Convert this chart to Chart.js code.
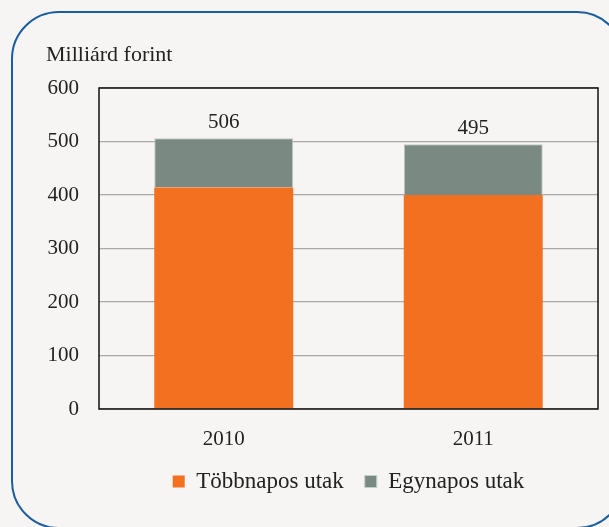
<!DOCTYPE html>
<html>
<head>
<meta charset="utf-8">
<script src="https://cdn.jsdelivr.net/npm/chart.js@4.4.1/dist/chart.umd.min.js"></script>
<style>
    html, body { margin: 0; padding: 0; background: #f6f5f3; overflow: hidden; }
    #wrap { position: relative; width: 609px; height: 527px; }
    #frame {
        position: absolute; left: 11px; top: 11px; width: 614px; height: 518px;
        border: 2.5px solid #1a5e9e; border-radius: 48px; box-sizing: border-box;
    }
    #cv { position: absolute; left: 0; top: 0; }
</style>
</head>
<body>
<div id="wrap">
    <div id="frame"></div>
    <canvas id="cv" width="609" height="527"></canvas>
</div>
<script>
// Datos del gráfico
const evek = ['2010', '2011'];
const tobbnapos = [414, 400];
const egynapos = [92, 95];
const yTicks = [0, 100, 200, 300, 400, 500, 600];

const betu = 'Liberation Serif';
const meret = 21;

// Összeg a halmozott oszlopok fölé
const osszegPlugin = {
    id: 'osszeg',
    afterDatasetsDraw(chart) {
        const ctx = chart.ctx;
        const meta = chart.getDatasetMeta(chart.data.datasets.length - 1);
        ctx.save();
        ctx.font = meret + 'px "' + betu + '"';
        ctx.fillStyle = '#222';
        ctx.textAlign = 'center';
        ctx.textBaseline = 'middle';
        meta.data.forEach(function(bar, i) {
            const total = tobbnapos[i] + egynapos[i];
            ctx.fillText(total, bar.x, bar.y - 16);
        });
        ctx.restore();
    }
};

// Fekete keret a rajzterület körül
const keretPlugin = {
    id: 'keret',
    afterDatasetsDraw(chart) {
        const a = chart.chartArea;
        const ctx = chart.ctx;
        ctx.save();
        ctx.strokeStyle = '#111';
        ctx.lineWidth = 1.5;
        ctx.strokeRect(a.left, a.top, a.right - a.left, a.bottom - a.top);
        ctx.restore();
    }
};

const ctx = document.getElementById('cv').getContext('2d');
new Chart(ctx, {
    type: 'bar',
    data: {
        labels: evek,
        datasets: [{
            label: 'Többnapos utak',
            data: tobbnapos,
            backgroundColor: '#f47021',
            borderWidth: 0,
            categoryPercentage: 1,
            barPercentage: 0.557
        }, {
            label: 'Egynapos utak',
            data: egynapos,
            backgroundColor: '#7a8a83',
            borderColor: '#c4ccc8',
            borderWidth: 1,
            categoryPercentage: 1,
            barPercentage: 0.557
        }]
    },
    options: {
        responsive: false,
        animation: false,
        devicePixelRatio: 1,
        layout: {
            padding: { left: 46, right: 11, top: 40, bottom: 24 }
        },
        plugins: {
            title: {
                display: true,
                text: 'Milliárd forint',
                align: 'start',
                color: '#222',
                font: { family: betu, size: 22, weight: 'normal' },
                padding: { top: 2, bottom: 19.6 }
            },
            legend: {
                position: 'bottom',
                fullSize: false,
                labels: {
                    color: '#222',
                    font: { family: betu, size: 23 },
                    boxWidth: 12,
                    boxHeight: 12,
                    padding: 21
                }
            },
            tooltip: { enabled: false }
        },
        scales: {
            x: {
                stacked: true,
                grid: { display: false, drawTicks: false },
                border: { display: false },
                afterFit: function(axis) {
                    axis.height = 40;
                },
                ticks: {
                    color: '#222',
                    font: { family: betu, size: meret },
                    padding: 18
                }
            },
            y: {
                stacked: true,
                min: 0,
                max: 600,
                afterBuildTicks: function(axis) {
                    axis.ticks = yTicks.map(function(v) { return { value: v }; });
                },
                afterFit: function(axis) {
                    axis.width = 53;
                },
                grid: { color: '#a9a9a9', lineWidth: 1.2, drawTicks: false },
                border: { display: false },
                ticks: {
                    color: '#222',
                    font: { family: betu, size: meret },
                    padding: 20
                }
            }
        }
    },
    plugins: [osszegPlugin, keretPlugin]
});
</script>
</body>
</html>
